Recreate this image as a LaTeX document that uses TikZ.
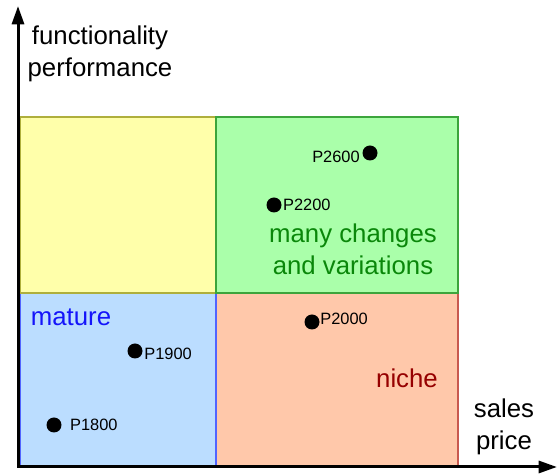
\documentclass[tikz,border=0pt]{standalone}
\usepackage{fontspec}
\setmainfont{Liberation Sans}
\usetikzlibrary{arrows.meta}
\definecolor{yellowbox}{RGB}{255,255,170}
\definecolor{yellowline}{RGB}{175,175,60}
\definecolor{greenbox}{RGB}{170,255,170}
\definecolor{greenline}{RGB}{60,165,60}
\definecolor{bluebox}{RGB}{187,221,255}
\definecolor{blueline}{RGB}{80,100,255}
\definecolor{salmonbox}{RGB}{255,200,170}
\definecolor{salmonline}{RGB}{200,90,80}
\definecolor{maturetext}{RGB}{20,20,250}
\definecolor{greentext}{RGB}{10,135,10}
\definecolor{nichetext}{RGB}{150,0,0}

\begin{document}
\begin{tikzpicture}[x=0.3mm,y=-0.3mm,
    axis/.style={line width=0.9mm,{Triangle[length=5.5mm,width=3.6mm]}-{Triangle[length=5.5mm,width=3.6mm]}},
    quad/.style={line width=0.45mm},
    dot/.style={circle,fill=black,inner sep=0pt,minimum size=4.5mm},
    plabel/.style={font=\fontsize{14}{16}\selectfont,inner sep=1pt},
    big/.style={font=\fontsize{22}{27}\selectfont,align=center,inner sep=0pt}]
    \useasboundingbox (0,0) rectangle (558,474);
    % quadrants
    \draw[quad, draw=salmonline, fill=salmonbox] (216,293) rectangle (458,466);
    \draw[quad, draw=blueline, fill=bluebox] (20,293) rectangle (216,466);
    \draw[quad, draw=yellowline, fill=yellowbox] (20,117) rectangle (216,293);
    \draw[quad, draw=greenline, fill=greenbox] (216,117) rectangle (458,293);
    % axes
    \coordinate (origin) at (18,467);
    \coordinate (ytop) at (18,6);
    \coordinate (xend) at (557,467);
    \draw[axis] (ytop) -- (origin) -- (xend);
    \node[big] (ylabel) at (100,54) {functionality\\performance};
    \node[big] (xlabel) at (504,427) {sales\\price};
    % regions
    \node[big, text=maturetext] (mature) at (71,317) {mature};
    \node[big, text=nichetext] (niche) at (407,378) {niche};
    \node[big, text=greentext] (many) at (353,249) {many changes\\and variations};
    % products
    \node[dot] (p2600) at (370,153) {};
    \node[plabel, left=1pt] (l2600) at ([yshift=-3pt]p2600.west) {P2600};
    \node[dot] (p2200) at (274,205) {};
    \node[plabel, right] (l2200) at (p2200.east) {P2200};
    \node[dot] (p2000) at (312,322) {};
    \node[plabel, anchor=west] (l2000) at (319,319) {P2000};
    \node[dot] (p1900) at (135,351) {};
    \node[plabel, anchor=west] (l1900) at (143,354) {P1900};
    \node[dot] (p1800) at (54,425) {};
    \node[plabel, right=6pt] (l1800) at (p1800.east) {P1800};
\end{tikzpicture}
\end{document}
